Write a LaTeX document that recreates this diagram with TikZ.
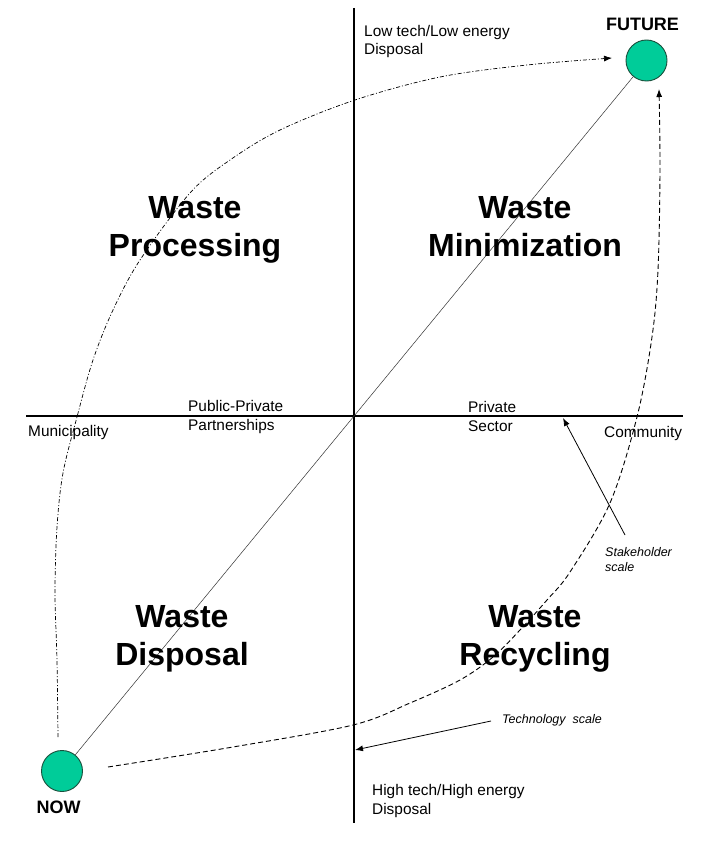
\documentclass[tikz,border=0pt]{standalone}
\usepackage{fontspec}
\setmainfont{Liberation Sans}
\usetikzlibrary{arrows.meta}
\definecolor{disc}{RGB}{0,204,153}
\definecolor{discedge}{RGB}{25,80,60}
\begin{document}
\begin{tikzpicture}[x=1pt,y=-1pt,
  quad/.style={font=\fontsize{32}{38}\selectfont\bfseries, align=center, anchor=base, inner sep=0pt},
  lbl/.style={font=\fontsize{15.4}{18.5}\selectfont, align=left, anchor=base west, inner sep=0pt},
  scalelbl/.style={font=\fontsize{12.5}{15}\selectfont\itshape, align=left, anchor=base west, inner sep=0pt},
  endlbl/.style={font=\fontsize{18}{20}\selectfont\bfseries, anchor=base, inner sep=0pt},
  stage/.style={circle, fill=disc, draw=discedge, line width=0.9pt, minimum size=41pt, inner sep=0pt},
  axisline/.style={line width=1.2pt, black},
  tipped/.style={-{Latex[length=8pt,width=6pt]}},
  dashdot/.style={line width=0.7pt, dash pattern=on 4pt off 2pt on 1pt off 2pt},
  dashline/.style={line width=0.9pt, dash pattern=on 5pt off 3pt},
]
\useasboundingbox[fill=white] (0,0) rectangle (714,843);

% axes
\coordinate (vtop) at (354,8);
\coordinate (vbot) at (354,823);
\coordinate (hleft) at (26,416);
\coordinate (hright) at (683,416);
\draw[axisline] (vtop) -- (vbot);
\draw[axisline] (hleft) -- (hright);

% stages
\node[stage] (future) at (646.5,60.5) {};
\node[stage] (now) at (62,771) {};
\node[endlbl] (futurelbl) at (642.5,31) {FUTURE};
\node[endlbl] (nowlbl) at (58.5,813) {NOW};

% diagonal
\draw[line width=0.5pt, black!80] (now) -- (future);

% quadrant labels (anchor = baseline of last line)
\node[quad] (proc) at (195,256) {Waste\\Processing};
\node[quad] (mini) at (525,256) {Waste\\Minimization};
\node[quad] (disp) at (182,665) {Waste\\Disposal};
\node[quad] (recy) at (535,665) {Waste\\Recycling};

% axis labels
\node[lbl] (lowtech) at (364,55) {Low tech/Low energy\\Disposal};
\node[lbl] (hightech) at (372,814) {High tech/High energy\\Disposal};
\node[lbl] (ppp) at (188,430) {Public-Private\\Partnerships};
\node[lbl] (muni) at (28,436) {Municipality};
\node[lbl] (priv) at (468,431) {Private\\Sector};
\node[lbl] (comm) at (604,437) {Community};
\node[scalelbl] (stake) at (605,571) {Stakeholder\\scale};
\node[scalelbl] (techlbl) at (502,723) {Technology~ scale};

% scale arrows
\coordinate (stakestart) at (625,535);
\coordinate (staketip) at (563,418);
\draw[tipped, line width=0.8pt] (stakestart) -- (staketip);
\coordinate (techstart) at (491,721);
\coordinate (techtip) at (355,750);
\draw[tipped, line width=0.8pt] (techstart) -- (techtip);

% dash-dot path via processing
\coordinate (lstart) at (58,737);
\coordinate (lend) at (612,58);
\draw[dashdot, tipped] plot[smooth, tension=0.55] coordinates {(lstart) (57,660) (55,593) (57,527) (63,473) (77,417) (93,360) (113,310) (140,260) (190,193) (230,160) (280,130) (355,100) (440,77) (527,65) (lend)};

% dashed path via recycling
\coordinate (rstart) at (108,767);
\coordinate (rend) at (659,89);
\draw[dashline, tipped] plot[smooth, tension=0.55] coordinates {(rstart) (233,747) (353,725) (410,703) (460,680) (493,657) (520,630) (547,600) (570,572) (610,503) (637,417) (652,337) (658,270) (660,170) (rend)};
\end{tikzpicture}
\end{document}
